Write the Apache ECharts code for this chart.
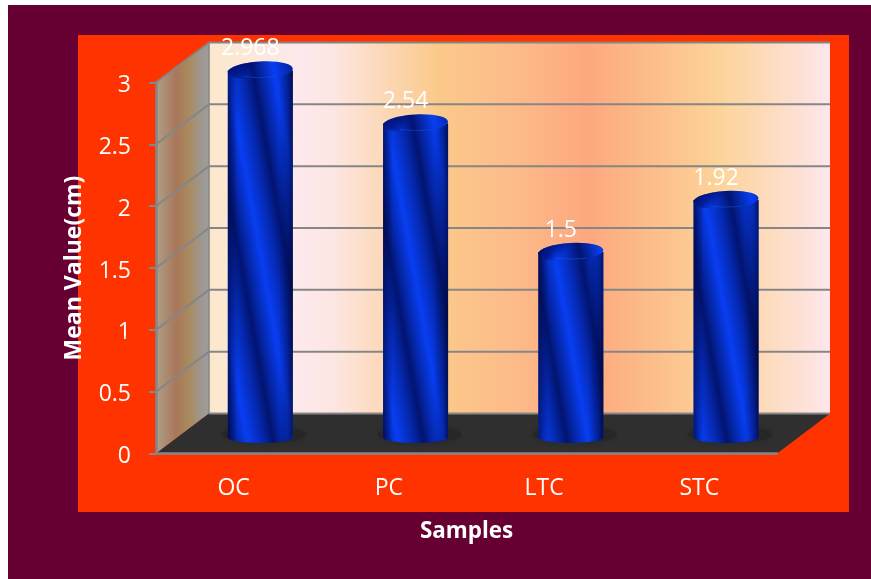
<!DOCTYPE html>
<html>
<head>
<meta charset="utf-8">
<style>html,body{margin:0;padding:0;background:#fff}#chart{width:871px;height:579px}</style>
<script src="https://cdn.jsdelivr.net/npm/echarts@6/dist/echarts.min.js"></script>
</head>
<body>
<div id="chart"></div>
<script>
const categories = ['OC', 'PC', 'LTC', 'STC'];
const values = [2.968, 2.54, 1.5, 1.92];
const valueTicks = [0, 0.5, 1, 1.5, 2, 2.5, 3];
const yName = 'Mean Value(cm)';
const xName = 'Samples';

const FONT = '"Open Sans", sans-serif';
const GRID = '#868686';
const DEPTH_X = 53, DEPTH_Y = -40;      // front edge to back wall
const BAR_DX = 26.7, BAR_DY = -16;      // columns stand mid-way along the floor
const BAR_HALF = 32.5;

const G = echarts.graphic;
const hGrad = (x0, x1, stops) => new G.LinearGradient(x0, 0, x1, 0, stops, true);

// The whole 3D room (side wall, back wall, floor, gridlines), placed from the value axis.
function renderRoom(params, api) {
  const cs = params.coordSys;
  const yAt = v => api.coord([0, v])[1];
  const x0 = cs.x, x1 = cs.x + cs.width;
  const y0 = yAt(0), yTop = yAt(valueTicks[valueTicks.length - 1]);
  const bx0 = x0 + DEPTH_X, bx1 = x1 + DEPTH_X;
  const line = (a, b, c, d, w) => ({
    type: 'line', shape: {x1: a, y1: b, x2: c, y2: d},
    style: {stroke: GRID, lineWidth: w || 2}
  });
  const children = [
    {type: 'polygon', shape: {points: [[x0, y0], [x0, yTop], [bx0, yTop + DEPTH_Y], [bx0, y0 + DEPTH_Y]]},
     style: {fill: hGrad(x0, bx0, [
       {offset: 0, color: '#ad9f88'}, {offset: 0.38, color: '#a9775a'},
       {offset: 0.62, color: '#a98a5e'}, {offset: 0.9, color: '#9c9a98'}, {offset: 1, color: '#a09c98'}])}},
    {type: 'rect', shape: {x: bx0, y: yTop + DEPTH_Y, width: bx1 - bx0, height: y0 - yTop},
     style: {fill: hGrad(bx0, bx1, [
       {offset: 0, color: '#fbe8cb'}, {offset: 0.15, color: '#fde9ec'}, {offset: 0.2, color: '#fde6e2'},
       {offset: 0.37, color: '#fbc98a'}, {offset: 0.49, color: '#fdbb8a'}, {offset: 0.61, color: '#fda87e'},
       {offset: 0.82, color: '#fcd398'}, {offset: 1, color: '#fee6ec'}])}},
    {type: 'polygon', shape: {points: [[x0, y0], [x1, y0], [bx1, y0 + DEPTH_Y], [bx0, y0 + DEPTH_Y]]},
     style: {fill: '#2f2f2f'}}
  ];
  valueTicks.forEach(v => {
    const y = yAt(v);
    if (v > 0) children.push(line(x0, y, bx0, y + DEPTH_Y));
    children.push(line(bx0, y + DEPTH_Y, bx1, y + DEPTH_Y));
  });
  children.push(line(bx0, yTop + DEPTH_Y, bx0, y0 + DEPTH_Y, 1.5));
  return {type: 'group', children};
}

// A twisted-shade cylinder standing on the floor, with its value written above it.
function renderColumn(params, api) {
  const p = api.coord([api.value(0), api.value(1)]);
  const base = api.coord([api.value(0), 0]);
  const cx = p[0] + BAR_DX, yt = p[1] + BAR_DY, yb = base[1] + BAR_DY;
  const pts = [[cx - BAR_HALF, yt], [cx + BAR_HALF, yt]];
  for (let i = 0; i <= 24; i++) {
    const a = Math.PI * i / 24;
    pts.push([cx + BAR_HALF * Math.cos(a), yb + 5.5 * Math.sin(a)]);
  }
  // Diagonal bands: repeating bright/dark stops across the column.
  const ym = (yt + yb) / 2, nx = 5.5 / 5.59, ny = -1 / 5.59, period = 46, reps = 3;
  const stops = [];
  for (let k = 0; k < reps * 2; k++) {
    const o = k / (reps * 2), s = 1 / (reps * 2);
    stops.push({offset: o, color: '#083ef2'},
               {offset: o + s * 0.28, color: '#052bb8'},
               {offset: o + s * 0.55, color: '#021470'},
               {offset: o + s * 0.78, color: '#052bb6'});
  }
  stops.push({offset: 1, color: '#083ef2'});
  const band = new G.LinearGradient(
    cx - nx * period * reps, ym - ny * period * reps,
    cx + nx * period * reps, ym + ny * period * reps, stops, true);
  const edges = hGrad(cx - BAR_HALF, cx + BAR_HALF, [
    {offset: 0, color: 'rgba(0,8,70,0.7)'}, {offset: 0.15, color: 'rgba(0,8,70,0)'},
    {offset: 0.78, color: 'rgba(0,8,70,0)'},
    {offset: 0.92, color: 'rgba(0,6,60,0.35)'}, {offset: 1, color: 'rgba(0,4,50,0.7)'}]);
  const lip = [];
  for (let i = 0; i <= 12; i++) {
    const a = Math.PI * (0.34 + 0.32 * i / 12);
    lip.push([cx + BAR_HALF * Math.cos(a), yt + 9 * Math.sin(a) - 2]);
  }
  const topShape = {cx, cy: yt, rx: BAR_HALF, ry: 9};
  const tilt = {rotation: 0.06, originX: cx, originY: yt};
  return {type: 'group', children: [
    {type: 'ellipse', z2: 1, shape: {cx: cx + 4, cy: yb - 3, rx: 42, ry: 8.5},
     style: {fill: '#262626', shadowBlur: 9, shadowColor: '#262626'}},
    {type: 'polygon', z2: 2, shape: {points: pts}, style: {fill: band}},
    {type: 'polygon', z2: 3, shape: {points: pts}, style: {fill: edges}},
    Object.assign({type: 'ellipse', z2: 4, shape: topShape, style: {fill: band}}, tilt),
    // Cap shading fades out towards the near rim so the top melts into the body.
    Object.assign({type: 'ellipse', z2: 5, shape: topShape,
      style: {fill: new G.LinearGradient(0, 0, 0.25, 1, [
        {offset: 0, color: 'rgba(0,10,90,0.92)'}, {offset: 0.6, color: 'rgba(0,14,110,0.65)'},
        {offset: 1, color: 'rgba(0,20,130,0)'}])}}, tilt),
    {type: 'polyline', z2: 6, shape: {points: lip},
     style: {fill: 'none', stroke: 'rgba(30,90,240,0.45)', lineWidth: 1}},
    {type: 'text', z2: 7, x: cx - 10, y: yt - 22,
     style: {text: String(api.value(1)), fill: '#fff', align: 'center', verticalAlign: 'middle',
             font: '23px ' + FONT}}
  ]};
}

const chart = echarts.init(document.getElementById('chart'), null, {renderer: 'canvas'});
chart.setOption({
  animation: false,
  backgroundColor: '#fff',
  graphic: [
    {type: 'rect', z: -10, silent: true, shape: {x: 8, y: 5, width: 863, height: 574}, style: {fill: '#660033'}},
    {type: 'rect', z: -9, silent: true, shape: {x: 78, y: 35, width: 771, height: 477}, style: {fill: '#ff3300'}}
  ],
  grid: {left: 156, top: 82.5, width: 621, height: 371, containLabel: false},
  xAxis: {
    type: 'category', data: categories, z: 6,
    name: xName, nameLocation: 'middle', nameGap: 67,
    nameTextStyle: {color: '#fff', fontFamily: FONT, fontWeight: 'bold', fontSize: 22.4},
    axisLine: {lineStyle: {color: GRID, width: 2.5}},
    axisTick: {length: 7, lineStyle: {color: GRID, width: 2}},
    axisLabel: {color: '#fff', fontFamily: FONT, fontSize: 23, margin: 23}
  },
  yAxis: {
    type: 'value', min: 0, max: 3, interval: 0.5, z: 6,
    name: yName, nameLocation: 'middle', nameGap: 70,
    nameTextStyle: {color: '#fff', fontFamily: FONT, fontWeight: 'bold', fontSize: 23},
    axisLine: {show: true, lineStyle: {color: GRID, width: 2.5}},
    axisTick: {show: true, length: 7, lineStyle: {color: GRID, width: 2}},
    splitLine: {show: false},
    axisLabel: {
      margin: 25,
      formatter: v => '{n|' + v + '}',
      // A taller line with the digits set at its foot sits them just under the tick.
      rich: {n: {color: '#fff', fontFamily: FONT, fontSize: 23, lineHeight: 29, verticalAlign: 'bottom'}}
    }
  },
  series: [
    {type: 'custom', z: 1, silent: true, renderItem: renderRoom, data: [[0, 0]], encode: {x: 0, y: 1}},
    {type: 'custom', z: 3, silent: true, renderItem: renderColumn,
     data: values.map((v, i) => [i, v]), encode: {x: 0, y: 1}}
  ]
});
</script>
</body>
</html>
